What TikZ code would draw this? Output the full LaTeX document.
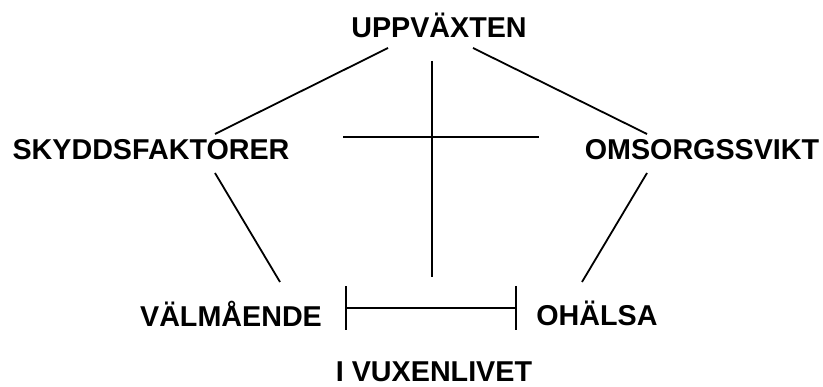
\documentclass[tikz,border=0pt]{standalone}
\usepackage{fontspec}
\setmainfont{Liberation Sans}
\usetikzlibrary{arrows.meta}
\tikzset{
  every picture/.style={line join=round, line cap=butt},
  term/.style={font=\bfseries\fontsize{28.7}{30}\selectfont, inner sep=0pt, anchor=base},
  link/.style={line width=1.8pt},
}

\begin{document}
\begin{tikzpicture}[x=1pt,y=-1pt]
\useasboundingbox (0,0) rectangle (823,387);
% labels
\node[term] (upp) at (439,38) {UPPVÄXTEN};
\node[term] (skydd) at (151,160) {SKYDDSFAKTORER};
\node[term] (omsorg) at (702,160) {OMSORGSSVIKT};
\node[term] (val) at (231,327) {VÄLMÅENDE};
\node[term] (oh) at (597,326) {OHÄLSA};
\node[term] (vux) at (434,382) {I VUXENLIVET};
% line ends
\coordinate (uppL) at (388,48);
\coordinate (uppR) at (473,48);
\coordinate (skyddT) at (215,134);
\coordinate (skyddB) at (215,173);
\coordinate (omsorgT) at (647,134);
\coordinate (omsorgB) at (647,173);
\coordinate (valT) at (280,282);
\coordinate (ohT) at (582,282);
\coordinate (midT) at (432,61);
\coordinate (midB) at (432,277);
\coordinate (crossL) at (343,137);
\coordinate (crossR) at (539,137);
\coordinate (barL) at (345,308);
\coordinate (barR) at (517,308);
% connectors
\draw[link] (uppL) -- (skyddT);
\draw[link] (uppR) -- (omsorgT);
\draw[link] (skyddB) -- (valT);
\draw[link] (omsorgB) -- (ohT);
\draw[link] (midT) -- (midB);
\draw[link] (crossL) -- (crossR);
\draw[link,{Bar[width=44pt]}-{Bar[width=44pt]}] (barL) -- (barR);
\end{tikzpicture}
\end{document}
